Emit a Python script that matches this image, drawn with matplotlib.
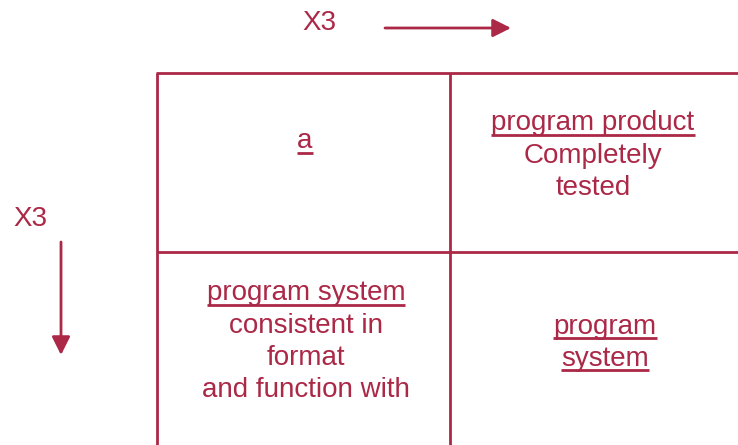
import matplotlib
matplotlib.use("Agg")
import matplotlib.pyplot as plt

RED = "#ab2847"
W, H = 738, 445

axis_label = "X3"
cells = [
    # (center x, first baseline y, lines, underlined flags)
    (305, 148, ["a"], [True]),
    (593, 130.5, ["program product", "Completely", "tested"], [True, False, False]),
    (306, 300.5, ["program system", "consistent in", "format", "and function with"], [True, False, False, False]),
    (605, 333.5, ["program", "system"], [True, True]),
]
line_step = 32.2

fig = plt.figure(figsize=(W / 100, H / 100), dpi=100)
ax = fig.add_axes([0, 0, 1, 1])
ax.set_xlim(0, W)
ax.set_ylim(H, 0)
ax.axis("off")

font = dict(family=["Liberation Sans", "DejaVu Sans"], fontsize=20, color=RED)

# grid
lw = 2.0
ax.plot([157, 157], [73, 450], color=RED, lw=lw, solid_capstyle="butt")
ax.plot([450, 450], [73, 450], color=RED, lw=lw, solid_capstyle="butt")
ax.plot([156, 745], [73, 73], color=RED, lw=lw, solid_capstyle="butt")
ax.plot([157, 745], [252, 252], color=RED, lw=lw, solid_capstyle="butt")

# axis labels and arrows
ax.text(319, 29.5, axis_label, ha="center", va="baseline", **font)
ax.text(30, 225.5, axis_label, ha="center", va="baseline", **font)
style = "-|>,head_length=1.1,head_width=0.55"
ax.annotate("", xy=(511, 28), xytext=(385, 28),
            arrowprops=dict(arrowstyle=style, color=RED, lw=2, shrinkA=0, shrinkB=0))
ax.annotate("", xy=(61, 355), xytext=(61, 242),
            arrowprops=dict(arrowstyle=style, color=RED, lw=2, shrinkA=0, shrinkB=0))

fig.canvas.draw()
renderer = fig.canvas.get_renderer()
inv = ax.transData.inverted()

for cx, cy, lines, under in cells:
    for i, (ln, u) in enumerate(zip(lines, under)):
        y = cy + i * line_step
        t = ax.text(cx, y, ln, ha="center", va="baseline", **font)
        if u:
            bb = t.get_window_extent(renderer)
            (x0, _), (x1, _) = inv.transform([(bb.x0, bb.y0), (bb.x1, bb.y1)])
            ax.plot([x0, x1], [y + 4.5, y + 4.5], color=RED, lw=2, solid_capstyle="butt")

fig.savefig("out.png", dpi=100)
